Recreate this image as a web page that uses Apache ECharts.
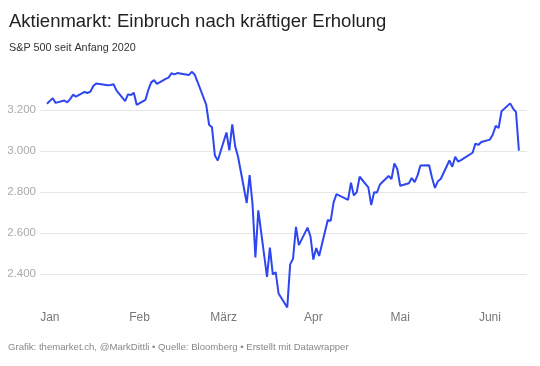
<!DOCTYPE html>
<html><head><meta charset="utf-8">
<script src="https://cdn.jsdelivr.net/npm/echarts@6/dist/echarts.min.js"></script>
<style>html,body{margin:0;padding:0;background:#fff}#c{width:540px;height:366px}</style>
</head><body><div id="c"></div>
<script>
const dates = ["2019-12-31","2020-01-02","2020-01-03","2020-01-06","2020-01-07","2020-01-08","2020-01-09","2020-01-10","2020-01-13","2020-01-14","2020-01-15","2020-01-16","2020-01-17","2020-01-21","2020-01-22","2020-01-23","2020-01-24","2020-01-27","2020-01-28","2020-01-29","2020-01-30","2020-01-31","2020-02-03","2020-02-04","2020-02-05","2020-02-06","2020-02-07","2020-02-10","2020-02-11","2020-02-12","2020-02-13","2020-02-14","2020-02-18","2020-02-19","2020-02-20","2020-02-21","2020-02-24","2020-02-25","2020-02-26","2020-02-27","2020-02-28","2020-03-02","2020-03-03","2020-03-04","2020-03-05","2020-03-06","2020-03-09","2020-03-10","2020-03-11","2020-03-12","2020-03-13","2020-03-16","2020-03-17","2020-03-18","2020-03-19","2020-03-20","2020-03-23","2020-03-24","2020-03-25","2020-03-26","2020-03-27","2020-03-30","2020-03-31","2020-04-01","2020-04-02","2020-04-03","2020-04-06","2020-04-07","2020-04-08","2020-04-09","2020-04-13","2020-04-14","2020-04-15","2020-04-16","2020-04-17","2020-04-20","2020-04-21","2020-04-22","2020-04-23","2020-04-24","2020-04-27","2020-04-28","2020-04-29","2020-04-30","2020-05-01","2020-05-04","2020-05-05","2020-05-06","2020-05-07","2020-05-08","2020-05-11","2020-05-12","2020-05-13","2020-05-14","2020-05-15","2020-05-18","2020-05-19","2020-05-20","2020-05-21","2020-05-22","2020-05-26","2020-05-27","2020-05-28","2020-05-29","2020-06-01","2020-06-02","2020-06-03","2020-06-04","2020-06-05","2020-06-08","2020-06-09","2020-06-10","2020-06-11"];
const spx = [3230.78,3257.85,3234.85,3246.28,3237.18,3253.05,3274.70,3265.35,3288.13,3283.15,3289.29,3316.81,3329.62,3320.79,3321.75,3325.54,3295.47,3243.63,3276.24,3273.40,3283.66,3225.52,3248.92,3297.59,3334.69,3345.78,3327.71,3352.09,3357.75,3379.45,3373.94,3380.16,3370.29,3386.15,3373.23,3337.75,3225.89,3128.21,3116.39,2978.76,2954.22,3090.23,3003.37,3130.12,3023.94,2972.37,2746.56,2882.23,2741.38,2480.64,2711.02,2386.13,2529.19,2398.10,2409.39,2304.92,2237.40,2447.33,2475.56,2630.07,2541.47,2626.65,2584.59,2470.50,2526.90,2488.65,2663.68,2659.41,2749.98,2789.82,2761.63,2846.06,2783.36,2799.55,2874.56,2823.16,2736.56,2799.31,2797.80,2836.74,2878.48,2863.39,2939.51,2912.43,2830.71,2842.74,2868.44,2848.42,2881.19,2929.80,2930.32,2870.12,2820.00,2852.50,2863.70,2953.91,2922.94,2971.61,2948.51,2955.45,2991.77,3036.13,3029.73,3044.31,3055.73,3080.82,3122.87,3112.35,3193.93,3232.39,3207.18,3190.14,3002.10];
const yTicks = [2400,2600,2800,3000,3200];
const monthStarts = ["2020-01-01","2020-02-01","2020-03-01","2020-04-01","2020-05-01","2020-06-01"];
const monthNames = ["Jan","Feb","März","Apr","Mai","Juni"];

const DAY = 86400000;
const ts = s => { const p = s.split('-').map(Number); return Date.UTC(p[0], p[1]-1, p[2]) / DAY; };
const monthDays = monthStarts.map(ts);
const FONT = '"Liberation Sans", Arial, sans-serif';

const chart = echarts.init(document.getElementById('c'), null, {renderer:'canvas'});
chart.setOption({
  animation:false,
  backgroundColor:'#fff',
  title:[
    {text:'Aktienmarkt: Einbruch nach kräftiger Erholung', left:4, top:7,
     textStyle:{fontFamily:FONT, fontSize:18.5, fontWeight:'normal', color:'#222'}},
    {text:'S&P 500 seit Anfang 2020', left:4, top:37.5,
     textStyle:{fontFamily:FONT, fontSize:10.8, fontWeight:'normal', color:'#333'}},
    {text:'Grafik: themarket.ch, @MarkDittli • Quelle: Bloomberg • Erstellt mit Datawrapper', left:3, top:337,
     textStyle:{fontFamily:FONT, fontSize:9.6, fontWeight:'normal', color:'#888'}}
  ],
  grid:{left:40, right:13, top:69, bottom:55, containLabel:false},
  xAxis:{
    type:'value',
    min: ts('2019-12-31') - 2.4,
    max: ts('2020-06-11') + 2.8,
    axisLine:{show:false},
    axisTick:{show:false, customValues: monthDays},
    splitLine:{show:false},
    axisLabel:{
      customValues: monthDays,
      formatter: v => { const i = monthDays.indexOf(v); return i >= 0 ? monthNames[i] : ''; },
      color:'#777', fontFamily:FONT, fontSize:12, margin:1
    }
  },
  yAxis:{
    type:'value', min:2220, max:3400,
    axisLine:{show:false},
    axisTick:{show:false, customValues: yTicks},
    splitLine:{show:true, lineStyle:{color:'#e6e6e6', width:1}},
    axisLabel:{
      customValues: yTicks,
      formatter: v => String(v).replace(/\B(?=(\d{3})+(?!\d))/g, '.'),
      color:'#aaa', fontFamily:FONT, fontSize:11.5, margin:4
    }
  },
  series:[{
    type:'line', showSymbol:false, symbol:'none',
    data: dates.map((d,i)=>[ts(d), spx[i]]),
    lineStyle:{color:'#2d46f0', width:2}, z:3
  }]
});
</script></body></html>
